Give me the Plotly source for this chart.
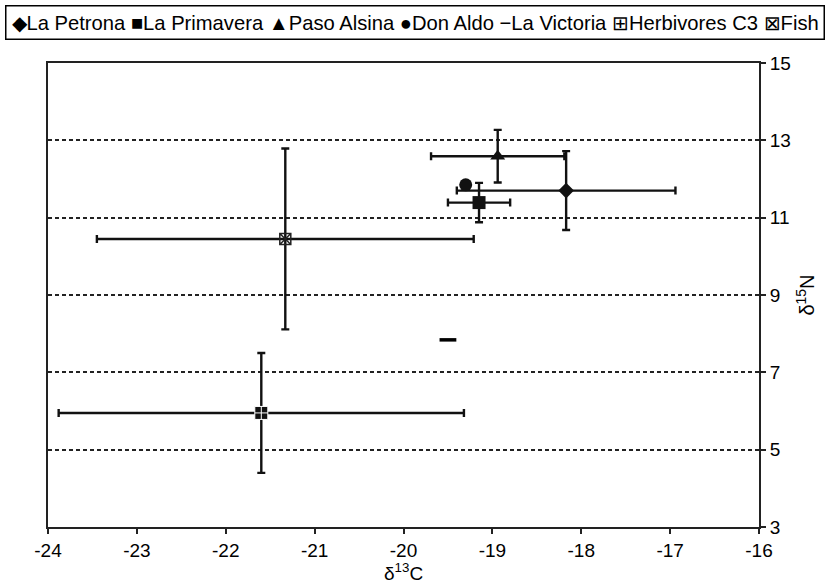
import plotly.graph_objects as go

# ---- data ----
names = ["La Petrona", "La Primavera", "Paso Alsina", "Don Aldo",
         "La Victoria", "Herbivores C3", "Fish"]
d13C = [-18.17, -19.15, -18.94, -19.30, -19.50, -21.60, -21.33]
d15N = [11.70, 11.39, 12.59, 11.85, 7.84, 5.95, 10.45]
sd13C = [1.23, 0.35, 0.75, 0.0, 0.0, 2.28, 2.12]
sd15N = [1.02, 0.51, 0.68, 0.0, 0.0, 1.55, 2.34]

x_ticks = [-24, -23, -22, -21, -20, -19, -18, -17, -16]
y_ticks = [3, 5, 7, 9, 11, 13, 15]

# ---- styles ----
symbols = ["diamond", "square", "triangle-up", "circle", "line-ew",
           "square-cross", "square-x-open"]
legend_glyphs = ["◆", "■", "▲", "●", "−", "⊞", "⊠"]
sizes = [12, 13, 13, 13, 12, 13, 11]
FONT = "Liberation Sans, Arial, sans-serif"

W, H = 834, 587
ML, MR, MT, MB = 48, 75, 63, 60
PW, PH = W - ML - MR, H - MT - MB

fig = go.Figure()
for i, n in enumerate(names):
    sym = symbols[i]
    if sym == "line-ew":
        marker = dict(symbol=sym, size=sizes[i], color="black",
                      line=dict(color="black", width=3.5))
    elif sym == "square-cross":
        marker = dict(symbol=sym, size=sizes[i], color="#111",
                      line=dict(color="white", width=1))
    elif sym == "square-x-open":
        marker = dict(symbol=sym, size=sizes[i], color="#222",
                      line=dict(color="#222", width=1.5))
    else:
        marker = dict(symbol=sym, size=sizes[i], color="#111",
                      line=dict(width=0))
    has_err = sd13C[i] > 0 or sd15N[i] > 0
    fig.add_trace(go.Scatter(
        x=[d13C[i]], y=[d15N[i]], name=n, mode="markers",
        marker=marker, showlegend=False,
        error_x=dict(type="data", array=[sd13C[i]], visible=has_err,
                     color="#111", thickness=2.4, width=4),
        error_y=dict(type="data", array=[sd15N[i]], visible=has_err,
                     color="#111", thickness=2.4, width=4),
    ))

# legend drawn as one boxed line of text, as in the reference
legend_text = " ".join(g + n for g, n in zip(legend_glyphs, names))
fig.add_annotation(
    text=legend_text, showarrow=False,
    xref="paper", yref="paper",
    x=(5 - ML) / PW, y=1 + (MT - 5) / PH,
    xanchor="left", yanchor="top", align="left",
    font=dict(family=FONT, size=20.2, color="black"),
    bordercolor="black", borderwidth=1.5, borderpad=5,
    bgcolor="white",
)
# x-axis title
fig.add_annotation(
    text="δ<sup>13</sup>C", showarrow=False,
    xref="paper", yref="paper", x=0.5, y=-(H - MT - PH - 1) / PH,
    xanchor="center", yanchor="bottom",
    font=dict(family=FONT, size=19, color="black"),
)

fig.update_layout(
    width=W, height=H,
    margin=dict(l=ML, r=MR, t=MT, b=MB),
    paper_bgcolor="white", plot_bgcolor="white",
    font=dict(family=FONT, color="black", size=19),
    showlegend=False,
    xaxis=dict(
        range=[-24, -16], tickvals=x_ticks, ticktext=[str(v) for v in x_ticks],
        showgrid=False, zeroline=False, automargin=False,
        showline=True, linecolor="#222", linewidth=2, mirror=True,
        ticks="outside", ticklen=5, tickwidth=2, tickcolor="#222",
        tickfont=dict(size=19),
    ),
    yaxis=dict(
        range=[3, 15], tickvals=y_ticks, ticktext=[str(v) for v in y_ticks],
        side="right", automargin=False,
        showgrid=True, gridcolor="#222", gridwidth=2, griddash="4px,3px",
        zeroline=False,
        showline=True, linecolor="#222", linewidth=2, mirror=True,
        ticks="outside", ticklen=5, tickwidth=2, tickcolor="#222",
        tickfont=dict(size=19),
        title=dict(text="δ<sup>15</sup>N", font=dict(size=20), standoff=10),
    ),
)

fig.write_html(
    "out.html",
    config={"displayModeBar": False},
    post_script="document.body.style.margin='0';document.body.style.padding='0';",
)
